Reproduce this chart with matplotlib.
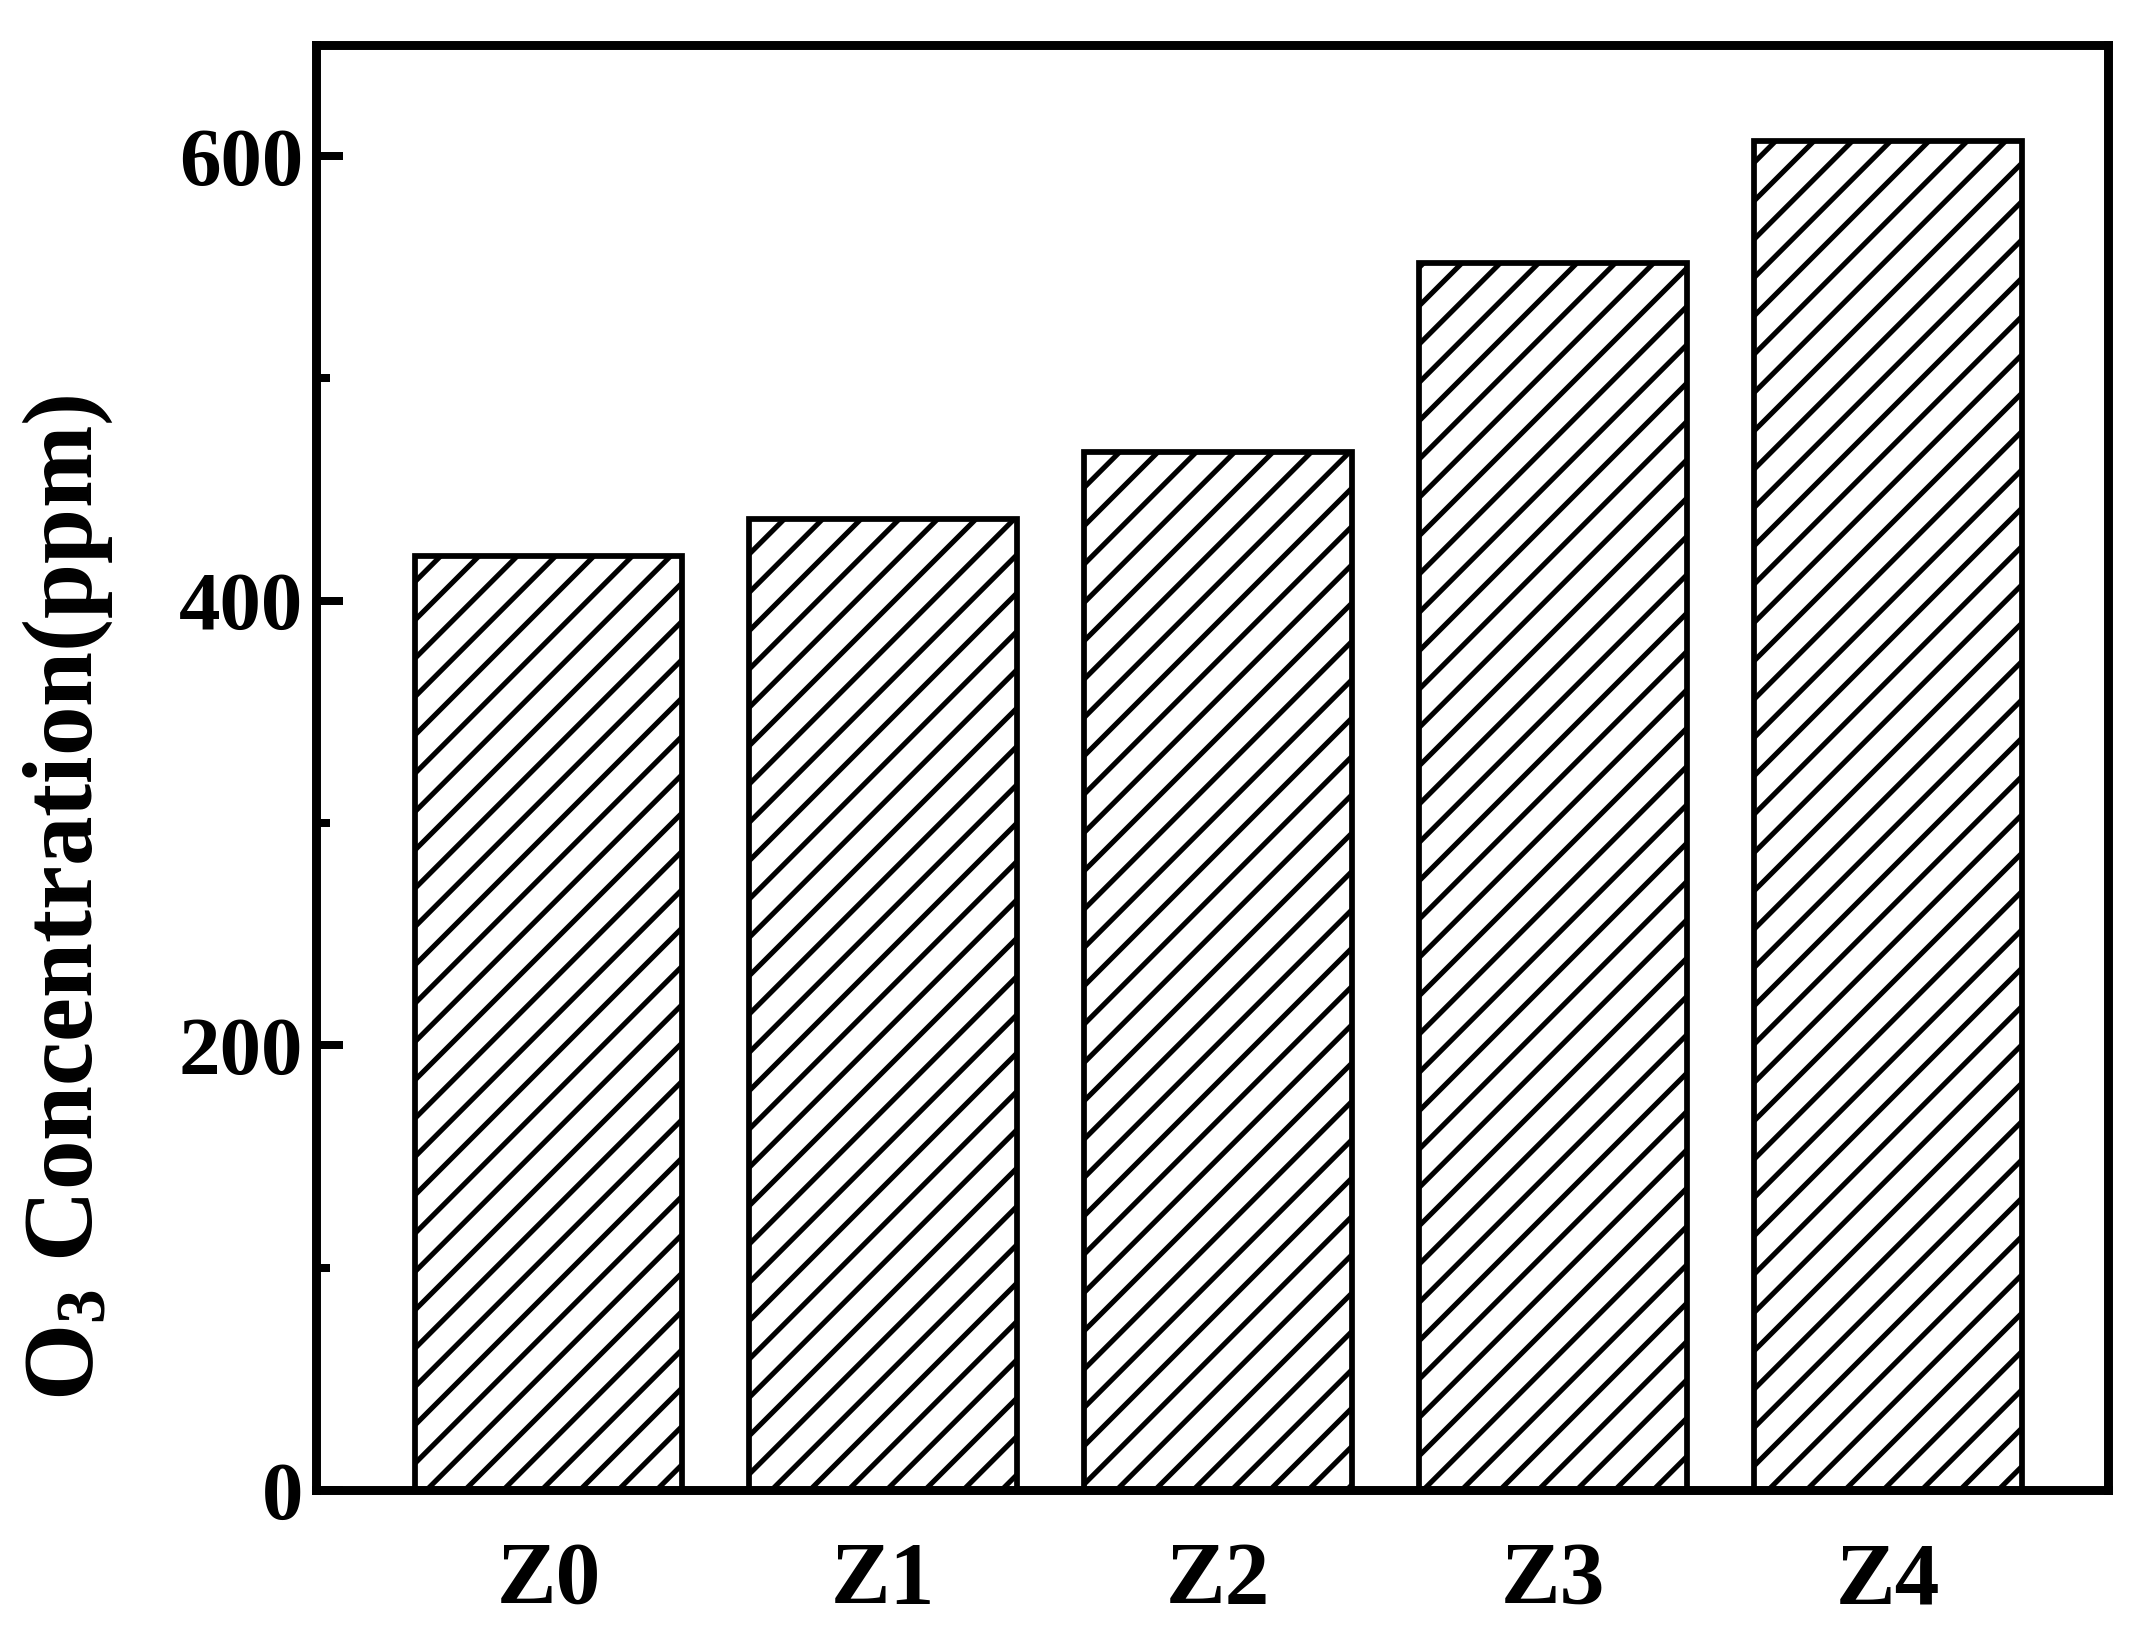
import matplotlib
matplotlib.use('Agg')
import matplotlib.pyplot as plt
from matplotlib.ticker import MultipleLocator

# O3 concentration for each sample
samples = ['Z0', 'Z1', 'Z2', 'Z3', 'Z4']
o3_ppm = [420, 437, 467, 552, 607]

plt.rcParams['font.family'] = ['Liberation Serif', 'DejaVu Serif']
plt.rcParams['font.weight'] = 'bold'
plt.rcParams['hatch.linewidth'] = 1.6

dpi = 230
fig = plt.figure(figsize=(2153 / dpi, 1637 / dpi), dpi=dpi)
ax = fig.add_axes([0.1468, 0.0898, 0.8322, 0.8827])

x = list(range(len(samples)))
ax.bar(x, o3_ppm, width=0.8, color='white', edgecolor='black',
       linewidth=1.8, hatch='//')

ax.set_xlim(-0.694, 4.656)
ax.set_ylim(0, 650)
ax.set_xticks(x)
ax.set_xticklabels(samples, fontsize=28, fontweight='bold')
ax.yaxis.set_major_locator(MultipleLocator(200))
ax.yaxis.set_minor_locator(MultipleLocator(100))
ax.tick_params(axis='x', length=0, pad=16)
ax.tick_params(axis='y', which='major', direction='in', length=8.5, width=2.5,
               labelsize=26, pad=4)
ax.tick_params(axis='y', which='minor', direction='in', length=4.5, width=2.5)
for lbl in ax.get_yticklabels():
    lbl.set_fontweight('bold')
for s in ax.spines.values():
    s.set_linewidth(2.8)

ax.set_ylabel(r'O$\mathregular{_3}$ Concentration(ppm)', fontsize=31,
              fontweight='bold')
ax.yaxis.set_label_coords(-0.112, 0.41)

fig.savefig('out.png', dpi=dpi)
